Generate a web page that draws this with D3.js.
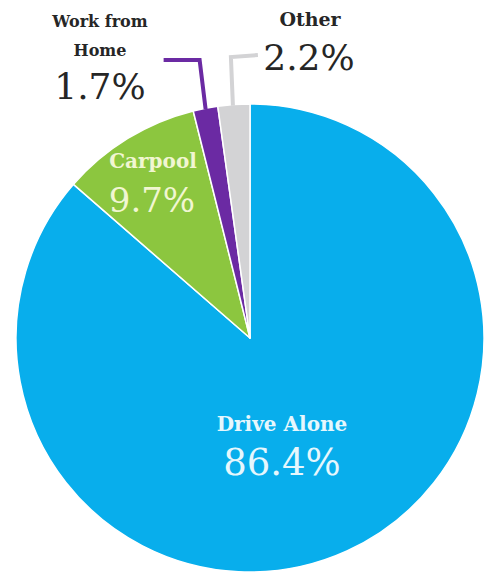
<!DOCTYPE html>
<html>
<head>
<meta charset="utf-8">
<script src="https://cdn.jsdelivr.net/npm/d3@7"></script>
<style>
  html, body { margin: 0; padding: 0; background: #ffffff; }
  svg { display: block; }
</style>
</head>
<body>
<script>
// Data
const categories = ["Drive Alone", "Carpool", "Work from Home", "Other"];
const values = [86.4, 9.7, 1.7, 2.2];
const colors = ["#08aeec", "#8cc63f", "#6b2aa3", "#d3d3d5"];
const valueLabels = ["86.4%", "9.7%", "1.7%", "2.2%"];

const W = 492, H = 576;
const cx = 250, cy = 338, R = 234;

const svg = d3.select("body").append("svg").attr("width", W).attr("height", H);

const pie = d3.pie().sort(null).value(d => d.v).startAngle(0).endAngle(2 * Math.PI);
const arcs = pie(categories.map((c, i) => ({ c, v: values[i], color: colors[i] })));
const arc = d3.arc().innerRadius(0).outerRadius(R);

const g = svg.append("g").attr("transform", `translate(${cx},${cy})`);

g.selectAll("path.slice")
  .data(arcs)
  .join("path")
  .attr("class", "slice")
  .attr("d", arc)
  .attr("fill", d => d.data.color)
  .attr("stroke", "#ffffff")
  .attr("stroke-width", 1.5)
  .attr("stroke-linejoin", "round");

const font = "'DejaVu Serif', serif";

function edgePoint(d, r) {
  const a = (d.startAngle + d.endAngle) / 2;
  return [cx + r * Math.sin(a), cy - r * Math.cos(a)];
}

// Leader lines
const wfh = arcs[2], oth = arcs[3];
const p1 = edgePoint(wfh, R - 1);
svg.append("path")
  .attr("d", d3.line()([[p1[0], p1[1]], [p1[0] - 6, 60], [p1[0] - 42, 60]]))
  .attr("fill", "none").attr("stroke", wfh.data.color).attr("stroke-width", 4)
  .attr("stroke-linejoin", "miter");
const p2 = edgePoint(oth, R - 1);
svg.append("path")
  .attr("d", d3.line()([[p2[0] - 1, p2[1]], [p2[0] - 3, 57], [p2[0] + 24, 55]]))
  .attr("fill", "none").attr("stroke", oth.data.color).attr("stroke-width", 4)
  .attr("stroke-linejoin", "miter");

// Outside labels
const dark = "#262626";
const t1 = svg.append("text").attr("text-anchor", "middle").attr("font-family", font).attr("fill", dark);
t1.append("tspan").attr("x", 100).attr("y", 27).attr("font-size", 16).attr("font-weight", "bold").text("Work from");
t1.append("tspan").attr("x", 100).attr("y", 56).attr("font-size", 16).attr("font-weight", "bold").text("Home");
svg.append("text").attr("x", 100).attr("y", 99).attr("text-anchor", "middle")
  .attr("font-family", font).attr("font-size", 36).attr("fill", dark).text(valueLabels[2]);

svg.append("text").attr("x", 310).attr("y", 26).attr("text-anchor", "middle")
  .attr("font-family", font).attr("font-size", 19).attr("font-weight", "bold").attr("fill", dark).text(categories[3]);
svg.append("text").attr("x", 309).attr("y", 70).attr("text-anchor", "middle")
  .attr("font-family", font).attr("font-size", 36).attr("fill", dark).text(valueLabels[3]);

// Inside labels
svg.append("text").attr("x", 153).attr("y", 168).attr("text-anchor", "middle")
  .attr("font-family", font).attr("font-size", 20).attr("font-weight", "bold").attr("fill", "#f1f6d2").text(categories[1]);
svg.append("text").attr("x", 152).attr("y", 212).attr("text-anchor", "middle")
  .attr("font-family", font).attr("font-size", 34).attr("fill", "#f1f6d2").text(valueLabels[1]);

svg.append("text").attr("x", 282).attr("y", 431).attr("text-anchor", "middle")
  .attr("font-family", font).attr("font-size", 20).attr("font-weight", "bold").attr("fill", "#e6f7fd").text(categories[0]);
svg.append("text").attr("x", 282).attr("y", 475).attr("text-anchor", "middle")
  .attr("font-family", font).attr("font-size", 37).attr("fill", "#e6f7fd").text(valueLabels[0]);
</script>
</body>
</html>
